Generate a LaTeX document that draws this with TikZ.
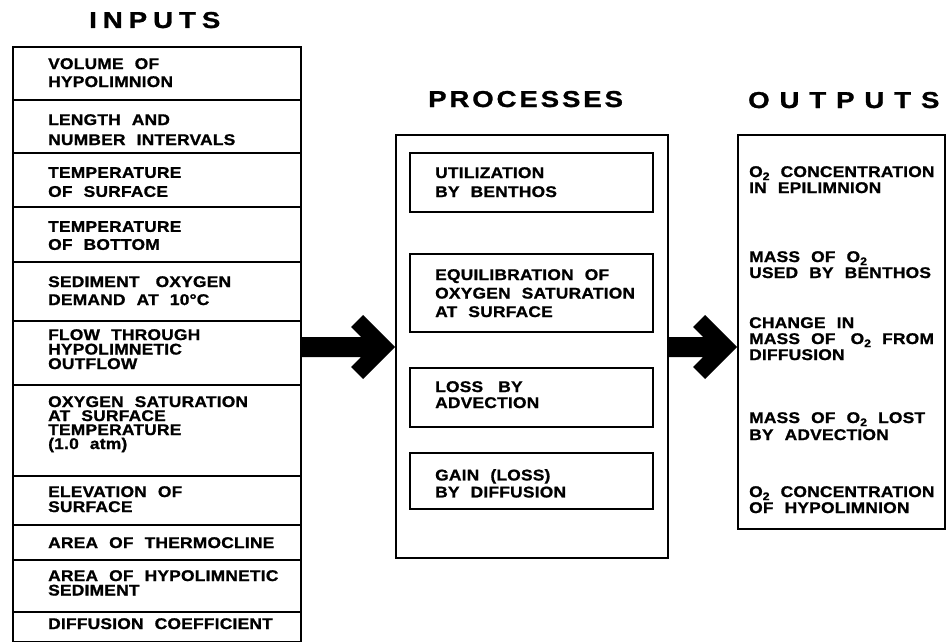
\documentclass[tikz,border=0pt]{standalone}
\usepackage{fontspec}
\newfontfamily\bodyfont{Liberation Sans}[LetterSpace=1.5,WordSpace=2.2,FakeStretch=1.12,FakeBold=1.2]
\newfontfamily\titlefont{Liberation Sans}[FakeStretch=1.2,FakeBold=1.2]
\usetikzlibrary{calc}
\newcommand\subtwo{\raisebox{-0.2em}{\fontsize{11}{11}\selectfont 2}}
\begin{document}
\begin{tikzpicture}[x=1pt,y=-1pt,
  box/.style={draw, line width=1.8pt, rectangle, inner sep=0pt, anchor=north west},
  txt/.style={anchor=north west, inner sep=0pt, align=left,
    font=\bodyfont\bfseries\fontsize{15.5}{#1}\selectfont},
  ttl/.style={anchor=base west, inner sep=0pt,
    font=\titlefont\bfseries\fontsize{23}{27}\selectfont\addfontfeature{LetterSpace=#1}},
  bigarrow/.style={fill=black}]
\useasboundingbox (0,0) rectangle (946,642);

% titles
\node[ttl=26] (tin) at (89,28) {INPUTS};
\node[ttl=12.5] (tproc) at (428,107) {PROCESSES};
\node[ttl=43] (tout) at (748,108) {OUTPUTS};

% input rows
\node[box, minimum width=288, minimum height=53] (in1) at (12,46) {};
\node[box, minimum width=288, minimum height=53] (in2) at (12,99) {};
\node[box, minimum width=288, minimum height=54] (in3) at (12,152) {};
\node[box, minimum width=288, minimum height=55] (in4) at (12,206) {};
\node[box, minimum width=288, minimum height=59] (in5) at (12,261) {};
\node[box, minimum width=288, minimum height=64] (in6) at (12,320) {};
\node[box, minimum width=288, minimum height=91] (in7) at (12,384) {};
\node[box, minimum width=288, minimum height=49] (in8) at (12,475) {};
\node[box, minimum width=288, minimum height=35] (in9) at (12,524) {};
\node[box, minimum width=288, minimum height=52] (in10) at (12,559) {};
\node[box, minimum width=288, minimum height=30] (in11) at (12,611) {};

\node[txt=18] (in1t) at (48,58) {VOLUME OF\\HYPOLIMNION};
\node[txt=20] (in2t) at (48,114) {LENGTH AND\\NUMBER INTERVALS};
\node[txt=19] (in3t) at (48,167) {TEMPERATURE\\OF SURFACE};
\node[txt=18] (in4t) at (48,221) {TEMPERATURE\\OF BOTTOM};
\node[txt=18] (in5t) at (48,276) {SEDIMENT\hspace{5pt} OXYGEN\\DEMAND AT 10°C};
\node[txt=14.5] (in6t) at (48,329) {FLOW THROUGH\\HYPOLIMNETIC\\OUTFLOW};
\node[txt=14] (in7t) at (48,396) {OXYGEN SATURATION\\AT SURFACE\\TEMPERATURE\\(1.0 atm)};
\node[txt=15] (in8t) at (48,486) {ELEVATION OF\\SURFACE};
\node[txt=15] (in9t) at (48,537) {AREA OF THERMOCLINE};
\node[txt=14.5] (in10t) at (48,570) {AREA OF HYPOLIMNETIC\\SEDIMENT};
\node[txt=15] (in11t) at (48,618) {DIFFUSION COEFFICIENT};

% processes
\node[box, minimum width=272, minimum height=423] (proc) at (395,134) {};
\node[box, minimum width=243, minimum height=59] (p1) at (409,152) {};
\node[box, minimum width=243, minimum height=78] (p2) at (409,253) {};
\node[box, minimum width=243, minimum height=59] (p3) at (409,367) {};
\node[box, minimum width=243, minimum height=56] (p4) at (409,452) {};
\node[txt=19] (p1t) at (435,167) {UTILIZATION\\BY BENTHOS};
\node[txt=18.5] (p2t) at (435,269) {EQUILIBRATION OF\\OXYGEN SATURATION\\AT SURFACE};
\node[txt=16] (p3t) at (435,381) {LOSS\hspace{4pt} BY\\ADVECTION};
\node[txt=17] (p4t) at (435,469) {GAIN (LOSS)\\BY DIFFUSION};

% outputs
\node[box, minimum width=207, minimum height=394] (out) at (737,134) {};
\node[txt=16] (o1) at (749,166) {O\subtwo\ CONCENTRATION\\IN EPILIMNION};
\node[txt=16] (o2) at (749,251) {MASS OF O\subtwo\\USED BY BENTHOS};
\node[txt=16] (o3) at (749,317) {CHANGE IN\\MASS OF\hspace{4pt} O\subtwo\ FROM\\DIFFUSION};
\node[txt=17] (o4) at (749,412) {MASS OF O\subtwo\ LOST\\BY ADVECTION};
\node[txt=16] (o5) at (749,486) {O\subtwo\ CONCENTRATION\\OF HYPOLIMNION};

% big arrows
\coordinate (t1) at (proc.west |- 0,347);
\coordinate (t2) at (out.west |- 0,347);
\fill[bigarrow] ($(in6.east |- t1)+(0,-10)$) -- ($(t1)+(-34,-10)$) -- ($(t1)+(-44,-20)$)
  -- ($(t1)+(-32,-32)$) -- (t1) -- ($(t1)+(-32,32)$) -- ($(t1)+(-44,20)$)
  -- ($(t1)+(-34,10)$) -- ($(in6.east |- t1)+(0,10)$) -- cycle;
\fill[bigarrow] ($(proc.east |- t2)+(0,-10)$) -- ($(t2)+(-34,-10)$) -- ($(t2)+(-44,-20)$)
  -- ($(t2)+(-32,-32)$) -- (t2) -- ($(t2)+(-32,32)$) -- ($(t2)+(-44,20)$)
  -- ($(t2)+(-34,10)$) -- ($(proc.east |- t2)+(0,10)$) -- cycle;
\end{tikzpicture}
\end{document}
